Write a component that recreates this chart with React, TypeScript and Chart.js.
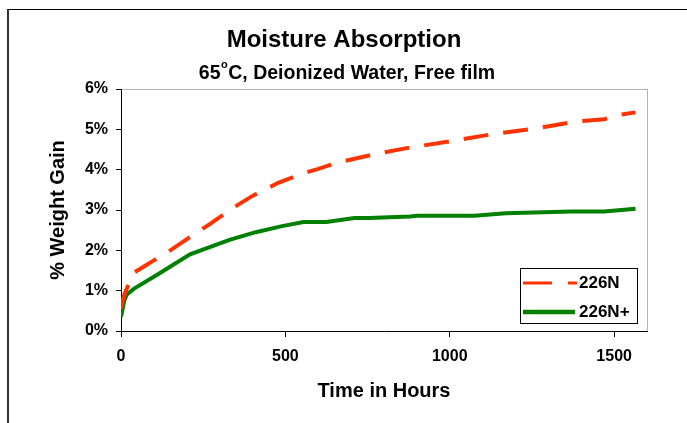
import React, { useEffect, useRef } from 'react';
import { Chart, registerables } from 'chart.js';

Chart.register(...registerables);

const TITLE = 'Moisture Absorption';
const SUB_BEFORE = '65';
const SUB_SUP = 'o';
const SUB_AFTER = 'C, Deionized Water, Free film';
const X_TITLE = 'Time in Hours';
const Y_TITLE = '% Weight Gain';
const SERIES_NAMES = ['226N', '226N+'];

const HOURS_226N = [0, 5, 10, 20, 30, 40, 70, 100, 150, 210, 270, 340, 400, 480, 550, 600, 660, 770, 880, 1000, 1130, 1260, 1380, 1470, 1510, 1565];
const GAIN_226N = [0.55, 0.75, 0.9, 1.1, 1.35, 1.45, 1.6, 1.75, 2.0, 2.33, 2.65, 3.05, 3.35, 3.68, 3.9, 4.02, 4.18, 4.38, 4.55, 4.7, 4.88, 5.02, 5.19, 5.25, 5.35, 5.42];

const HOURS_226NP = [0, 5, 10, 17, 40, 115, 210, 330, 410, 490, 555, 625, 710, 755, 880, 900, 1075, 1170, 1370, 1470, 1565];
const GAIN_226NP = [0.35, 0.55, 0.75, 0.9, 1.05, 1.42, 1.9, 2.26, 2.45, 2.6, 2.7, 2.7, 2.8, 2.8, 2.84, 2.86, 2.86, 2.92, 2.96, 2.96, 3.03];

const X_TICKS = [0, 500, 1000, 1500];
const Y_TICKS = [0, 1, 2, 3, 4, 5, 6];

const FONT = '"Liberation Sans", Arial, Helvetica, sans-serif';
const RED = '#FF3300';
const GREEN = '#008000';

const framePlugin = {
  id: 'plotFrame',
  beforeDraw(chart: any) {
    const { ctx, chartArea } = chart;
    ctx.save();
    ctx.strokeStyle = '#b4b4b4';
    ctx.lineWidth = 1;
    ctx.strokeRect(Math.round(chartArea.left) + 0.5, Math.round(chartArea.top) + 0.5, Math.round(chartArea.right - chartArea.left), Math.round(chartArea.bottom - chartArea.top));
    ctx.restore();
  },
};

const titlePlugin = {
  id: 'titles',
  afterDraw(chart: any) {
    const { ctx } = chart;
    ctx.save();
    ctx.fillStyle = '#000';
    ctx.textBaseline = 'middle';
    ctx.textAlign = 'center';
    ctx.font = `bold 24px ${FONT}`;
    ctx.fillText(TITLE, 344, 40);

    const mainFont = `bold 19.5px ${FONT}`;
    const supFont = `bold 11px ${FONT}`;
    ctx.font = mainFont;
    const wA = ctx.measureText(SUB_BEFORE).width;
    const wB = ctx.measureText(SUB_AFTER).width;
    ctx.font = supFont;
    const wS = ctx.measureText(SUB_SUP).width + 1;
    const total = wA + wS + wB;
    let x = 347 - total / 2;
    const y = 74;
    ctx.textAlign = 'left';
    ctx.font = mainFont;
    ctx.fillText(SUB_BEFORE, x, y);
    x += wA;
    ctx.font = supFont;
    ctx.fillText(SUB_SUP, x + 0.5, y - 9);
    x += wS;
    ctx.font = mainFont;
    ctx.fillText(SUB_AFTER, x, y);
    ctx.restore();
  },
};

const legendPlugin = {
  id: 'boxLegend',
  afterDraw(chart: any) {
    const { ctx } = chart;
    const ds = chart.data.datasets;
    ctx.save();
    ctx.fillStyle = '#fff';
    ctx.fillRect(520.5, 268.5, 117, 55);
    ctx.strokeStyle = '#000';
    ctx.lineWidth = 1;
    ctx.strokeRect(520.5, 268.5, 117, 55);

    const rows = [283, 312];
    ds.forEach((d: any, i: number) => {
      const y = rows[i];
      ctx.save();
      ctx.strokeStyle = d.borderColor;
      ctx.lineWidth = i === 0 ? 3 : 4.5;
      ctx.setLineDash(i === 0 ? [29, 16] : []);
      ctx.beginPath();
      ctx.moveTo(523, y);
      ctx.lineTo(i === 0 ? 577 : 575, y);
      ctx.stroke();
      ctx.restore();
      ctx.fillStyle = '#000';
      ctx.font = `bold 17px ${FONT}`;
      ctx.textAlign = 'left';
      ctx.textBaseline = 'middle';
      ctx.fillText(d.label, 579, y + 0.5);
    });
    ctx.restore();
  },
};

function toPoints(xs: number[], ys: number[]) {
  return xs.map((x, i) => ({ x, y: ys[i] }));
}

export default function App() {
  const canvasRef = useRef<HTMLCanvasElement | null>(null);

  useEffect(() => {
    const canvas = canvasRef.current;
    if (!canvas) return;
    const chart = new Chart(canvas, {
      type: 'line',
      data: {
        datasets: [
          {
            label: SERIES_NAMES[0],
            data: toPoints(HOURS_226N, GAIN_226N),
            borderColor: RED,
            backgroundColor: RED,
            borderWidth: 4,
            borderDash: [25, 15],
            pointRadius: 0,
            tension: 0,
            fill: false,
          },
          {
            label: SERIES_NAMES[1],
            data: toPoints(HOURS_226NP, GAIN_226NP),
            borderColor: GREEN,
            backgroundColor: GREEN,
            borderWidth: 4,
            pointRadius: 0,
            tension: 0,
            fill: false,
          },
        ],
      },
      options: {
        animation: false,
        responsive: false,
        devicePixelRatio: 1,
        layout: { padding: { left: 0, top: 89, right: 40, bottom: 0 } },
        plugins: {
          legend: { display: false },
          title: { display: false },
          tooltip: { enabled: false },
        },
        scales: {
          x: {
            type: 'linear',
            min: 0,
            max: 1600,
            afterBuildTicks: (scale: any) => {
              scale.ticks = X_TICKS.map((v) => ({ value: v }));
            },
            afterFit: (scale: any) => {
              scale.height = 92;
            },
            grid: {
              drawOnChartArea: false,
              drawTicks: true,
              tickLength: 6,
              tickColor: '#000',
              color: '#000',
            },
            border: { display: true, color: '#000', width: 1 },
            ticks: {
              color: '#000',
              padding: 10,
              maxRotation: 0,
              callback: (v: any) => String(v),
              font: { family: FONT, size: 16, weight: 'bold' },
            },
            title: {
              display: true,
              text: X_TITLE,
              color: '#000',
              font: { family: FONT, size: 20, weight: 'bold' },
              padding: { top: 0, bottom: 20 },
            },
          },
          y: {
            type: 'linear',
            min: 0,
            max: 6,
            afterBuildTicks: (scale: any) => {
              scale.ticks = Y_TICKS.map((v) => ({ value: v }));
            },
            afterFit: (scale: any) => {
              scale.width = 121;
            },
            grid: {
              drawOnChartArea: false,
              drawTicks: true,
              tickLength: 5,
              tickColor: '#000',
              color: '#000',
            },
            border: { display: true, color: '#000', width: 1 },
            ticks: {
              color: '#000',
              padding: 8,
              callback: (v: any) => `${v}%`,
              font: { family: FONT, size: 16, weight: 'bold' },
            },
            title: {
              display: true,
              text: Y_TITLE,
              color: '#000',
              font: { family: FONT, size: 20, weight: 'bold' },
              padding: { top: 46, bottom: 0 },
            },
          },
        },
      } as any,
      plugins: [framePlugin, titlePlugin, legendPlugin],
    });
    return () => chart.destroy();
  }, []);

  return (
    <div style={{ position: 'fixed', left: 0, top: 0, width: 687, height: 423, overflow: 'hidden', background: '#fff' }}>
      <div
        style={{
          position: 'absolute',
          left: 7,
          top: 9,
          width: 900,
          height: 700,
          borderLeft: '2px solid #333',
          borderTop: '1.5px solid #000',
          boxSizing: 'border-box',
        }}
      />
      <canvas ref={canvasRef} width={687} height={423} style={{ position: 'absolute', left: 0, top: 0, width: 687, height: 423 }} />
    </div>
  );
}
